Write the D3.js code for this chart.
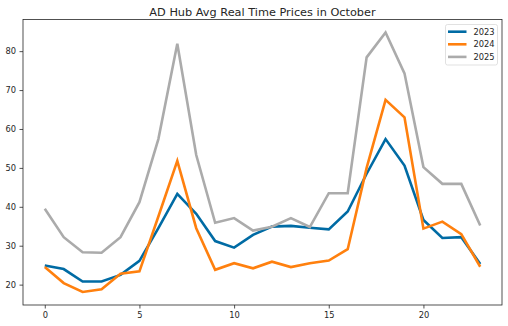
<!DOCTYPE html>
<html><head><meta charset="utf-8">
<script src="https://cdn.jsdelivr.net/npm/d3@7"></script>
<style>body{margin:0;background:#fff}svg{display:block}text{font-family:"DejaVu Sans",sans-serif;fill:#262626}</style>
</head><body><svg id="c" width="508" height="326"></svg>
<script>
const hours = d3.range(24);
const series2023 = [24.9,24.0,20.8,20.8,22.5,26.1,34.5,43.3,38.2,31.2,29.5,32.8,34.9,35.1,34.6,34.2,38.8,48.5,57.4,50.6,36.6,32.0,32.2,25.3];
const series2024 = [24.5,20.4,18.1,18.8,22.8,23.4,37.5,51.8,34.5,23.8,25.5,24.2,25.9,24.5,25.5,26.2,29.1,50.0,67.5,63.0,34.4,36.2,33.0,24.6];
const series2025 = [39.5,32.2,28.3,28.2,32.2,41.2,57.4,81.9,53.3,35.9,37.1,33.9,34.9,37.1,34.8,43.5,43.5,78.4,84.8,74.3,50.2,45.9,45.9,35.2];
const seriesNames = ["2023","2024","2025"];
const seriesColors = ["#006BA4","#FF800E","#ABABAB"];
const xTicks = [0,5,10,15,20];
const yTicks = [20,30,40,50,60,70,80];
const title = "AD Hub Avg Real Time Prices in October";

const allSeries = [series2023, series2024, series2025];
const svg = d3.select("#c");
const L = 23, R = 502, T = 19.5, B = 305;
const x = d3.scaleLinear().domain([-1.15, 24.15]).range([L, R]);
const allVals = allSeries.flat();
const mn = d3.min(allVals), mx = d3.max(allVals), pad = (mx - mn) * 0.05;
const y = d3.scaleLinear().domain([mn - pad, mx + pad]).range([B, T]);

svg.append("text").attr("x", (L + R) / 2).attr("y", 15.5).attr("text-anchor", "middle")
  .style("font-size", "11.3px").text(title);

const line = d3.line().x((d, i) => x(hours[i])).y(d => y(d));
allSeries.forEach((s, k) => {
  svg.append("path").datum(s).attr("d", line).attr("fill", "none")
    .attr("stroke", seriesColors[k]).attr("stroke-width", 2.6).attr("stroke-linejoin", "miter");
});

const xa = svg.append("g").attr("transform", `translate(0,${B})`)
  .call(d3.axisBottom(x).tickValues(xTicks).tickSize(3.5).tickPadding(3.5).tickFormat(d3.format("d")));
const ya = svg.append("g").attr("transform", `translate(${L},0)`)
  .call(d3.axisLeft(y).tickValues(yTicks).tickSize(3.5).tickPadding(3.5).tickFormat(d3.format("d")));
[xa, ya].forEach(a => {
  a.select(".domain").remove();
  a.selectAll("line").attr("stroke", "#262626").attr("stroke-width", 0.8);
  a.selectAll("text").style("font-size", "8.3px").attr("fill", "#262626").style("font-family", "DejaVu Sans");
});
svg.append("rect").attr("x", L).attr("y", T).attr("width", R - L).attr("height", B - T)
  .attr("fill", "none").attr("stroke", "#262626").attr("stroke-width", 0.8);

const lg = svg.append("g");
lg.append("rect").attr("x", 445.5).attr("y", 24.5).attr("width", 52).attr("height", 40.5).attr("rx", 2)
  .attr("fill", "#fff").attr("fill-opacity", 0.8).attr("stroke", "#d9d9d9").attr("stroke-width", 0.8);
seriesNames.forEach((n, k) => {
  const yy = 31.7 + k * 12.6;
  lg.append("line").attr("x1", 448).attr("x2", 466.5).attr("y1", yy).attr("y2", yy)
    .attr("stroke", seriesColors[k]).attr("stroke-width", 2.6);
  lg.append("text").attr("x", 473.5).attr("y", yy + 3).style("font-size", "8.3px").text(n);
});
</script></body></html>
